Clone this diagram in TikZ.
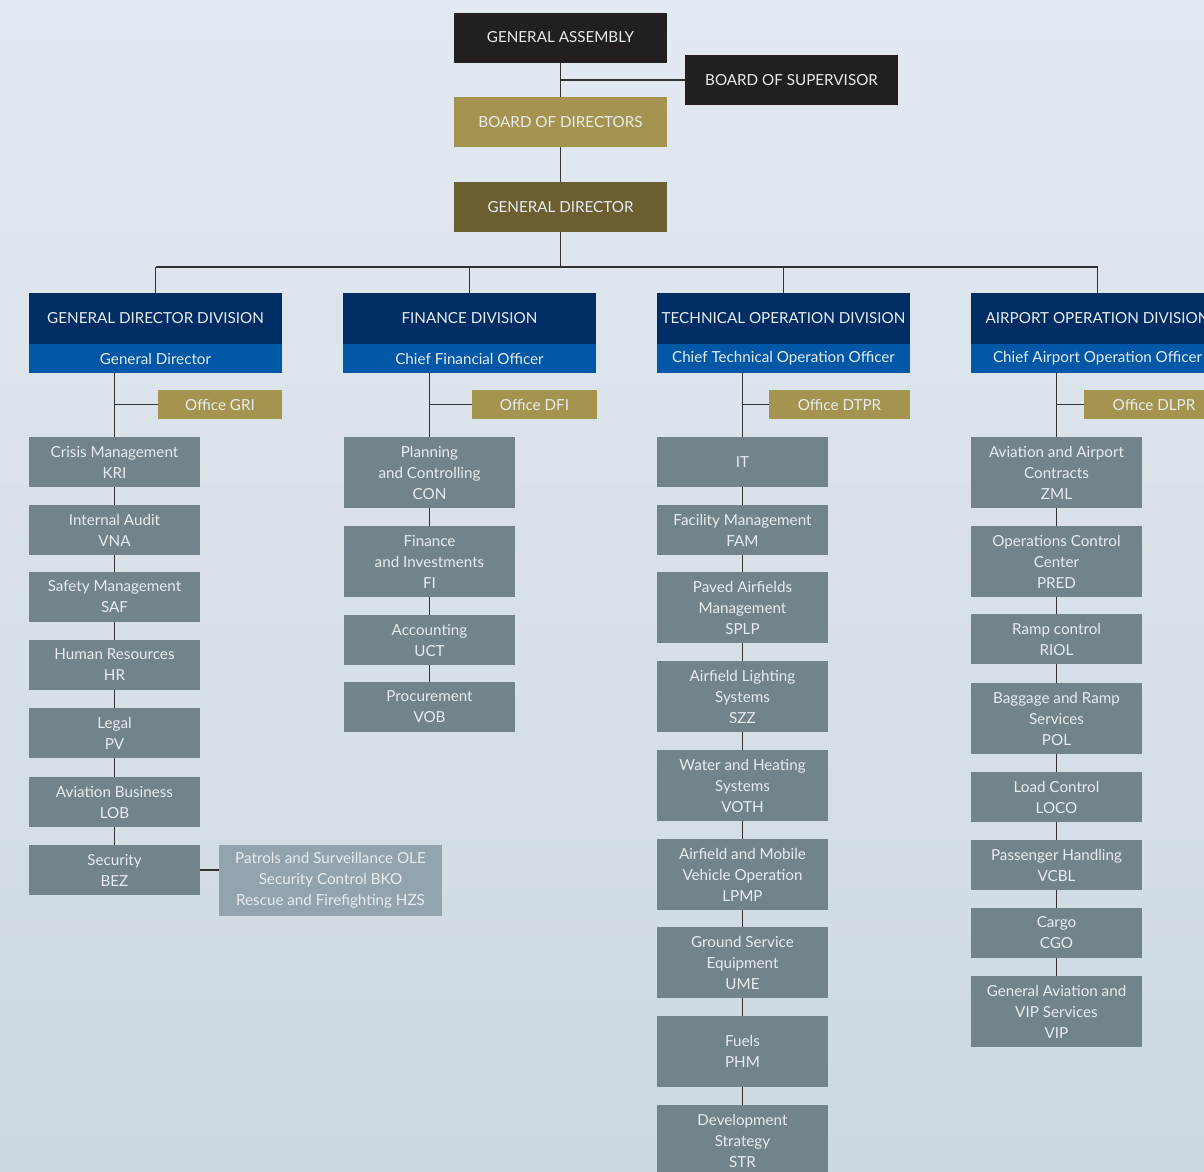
\documentclass[tikz,border=0pt]{standalone}
\usepackage{fontspec}
\setmainfont{Lato}
\usetikzlibrary{calc}
\definecolor{bgtop}{HTML}{E3E9F0}
\definecolor{bgbot}{HTML}{CCD9E2}
\definecolor{blackbox}{HTML}{231F20}
\definecolor{goldbox}{HTML}{A59450}
\definecolor{olivebox}{HTML}{6B5F32}
\definecolor{navybox}{HTML}{002D64}
\definecolor{bluebox}{HTML}{0057A6}
\definecolor{graybox}{HTML}{72838B}
\definecolor{lightgraybox}{HTML}{93A4AE}
\definecolor{boxtext}{HTML}{E8ECEF}
\definecolor{linecol}{HTML}{333333}
\tikzset{
  every node/.style={inner sep=0pt, outer sep=0pt, align=center, text=boxtext,
    font=\fontsize{15.2}{21}\selectfont},
  topbox/.style={minimum width=213, minimum height=50},
  divhead/.style={fill=navybox, minimum width=253, minimum height=51},
  divsub/.style={fill=bluebox, minimum width=253, minimum height=29},
  office/.style={fill=goldbox, minimum height=29},
  unit/.style={fill=graybox, minimum width=171, minimum height=50},
  unittall/.style={fill=graybox, minimum width=171, minimum height=71},
  conn/.style={draw=linecol, line width=1.9}
}
\begin{document}
\begin{tikzpicture}[x=1pt,y=-1pt]
\useasboundingbox (0,0) rectangle (1204,1171);
\clip (0,0) rectangle (1204,1171);
\shade[top color=bgtop, bottom color=bgbot] (0,0) rectangle (1204,1171);

% top level
\node[topbox, fill=blackbox] (ga) at (560.5,37.5) {GENERAL ASSEMBLY};
\node[topbox, fill=blackbox] (bos) at (791.5,80) {BOARD OF SUPERVISOR};
\node[topbox, fill=goldbox] (bod) at (560.5,122) {BOARD OF DIRECTORS};
\node[topbox, fill=olivebox] (gd) at (560.5,207) {GENERAL DIRECTOR};
\coordinate (bus) at (560.5,267);

% divisions
\node[divhead] (d1) at (155.5,318.5) {GENERAL DIRECTOR DIVISION};
\node[divsub] (c1) at (155.5,358.5) {General Director};
\node[divhead] (d2) at (469.5,318.5) {FINANCE DIVISION};
\node[divsub] (c2) at (469.5,358.5) {Chief Financial Officer};
\node[divhead] (d3) at (783.5,318.5) {TECHNICAL OPERATION DIVISION};
\node[divsub] (c3) at (783.5,358.5) {Chief Technical Operation Officer};
\node[divhead] (d4) at (1097.5,318.5) {AIRPORT OPERATION DIVISION};
\node[divsub] (c4) at (1097.5,358.5) {Chief Airport Operation Officer};

% offices
\node[office, minimum width=124] (o1) at (220,404.5) {Office GRI};
\node[office, minimum width=125] (o2) at (534.5,404.5) {Office DFI};
\node[office, minimum width=141] (o3) at (839.5,404.5) {Office DTPR};
\node[office, minimum width=140] (o4) at (1154,404.5) {Office DLPR};

% spine start points
\coordinate (s1) at (114.5,373);
\coordinate (s2) at (429.5,373);
\coordinate (s3) at (742.5,373);
\coordinate (s4) at (1056.5,373);

% column 1
\node[unit] (a1) at (114.5,462) {Crisis Management\\KRI};
\node[unit] (a2) at (114.5,530) {Internal Audit\\VNA};
\node[unit] (a3) at (114.5,597) {Safety Management\\SAF};
\node[unit] (a4) at (114.5,665) {Human Resources\\HR};
\node[unit] (a5) at (114.5,733) {Legal\\PV};
\node[unit] (a6) at (114.5,802) {Aviation Business\\LOB};
\node[unit] (a7) at (114.5,870) {Security\\BEZ};
\node[fill=lightgraybox, minimum width=223, minimum height=71] (sec) at (330.5,880.5)
  {Patrols and Surveillance OLE\\Security Control BKO\\Rescue and Firefighting HZS};

% column 2
\node[unittall] (b1) at (429.5,472.5) {Planning\\and Controlling\\CON};
\node[unittall] (b2) at (429.5,561.5) {Finance\\and Investments\\FI};
\node[unit] (b3) at (429.5,640) {Accounting\\UCT};
\node[unit] (b4) at (429.5,707) {Procurement\\VOB};

% column 3
\node[unit] (t1) at (742.5,462) {IT};
\node[unit] (t2) at (742.5,530) {Facility Management\\FAM};
\node[unittall] (t3) at (742.5,607.5) {Paved Airfields\\Management\\SPLP};
\node[unittall] (t4) at (742.5,696.5) {Airfield Lighting\\Systems\\SZZ};
\node[unittall] (t5) at (742.5,785.5) {Water and Heating\\Systems\\VOTH};
\node[unittall] (t6) at (742.5,874.5) {Airfield and Mobile\\Vehicle Operation\\LPMP};
\node[unittall] (t7) at (742.5,962.5) {Ground Service\\Equipment\\UME};
\node[unittall] (t8) at (742.5,1051.5) {Fuels\\PHM};
\node[unittall] (t9) at (742.5,1140.5) {Development\\Strategy\\STR};

% column 4
\node[unittall] (p1) at (1056.5,472.5) {Aviation and Airport\\Contracts\\ZML};
\node[unittall] (p2) at (1056.5,561.5) {Operations Control\\Center\\PRED};
\node[unit] (p3) at (1056.5,639) {Ramp control\\RIOL};
\node[unittall] (p4) at (1056.5,718.5) {Baggage and Ramp\\Services\\POL};
\node[unit] (p5) at (1056.5,797) {Load Control\\LOCO};
\node[unit] (p6) at (1056.5,865) {Passenger Handling\\VCBL};
\node[unit] (p7) at (1056.5,933) {Cargo\\CGO};
\node[unittall] (p8) at (1056.5,1011.5) {General Aviation and\\VIP Services\\VIP};

% connectors
\draw[conn] (ga) -- (bod);
\draw[conn] (bos.west) -- (bos.west -| ga.south);
\draw[conn] (bod) -- (gd);
\draw[conn] (gd) -- (bus);
\draw[conn] (d1.north |- bus) -- (d4.north |- bus);
\foreach \d in {d1,d2,d3,d4} \draw[conn] (\d.north) -- (\d.north |- bus);

\draw[conn] (s1) -- (a1);
\draw[conn] (o1.west) -- (o1.west -| s1);
\foreach \u/\v in {a1/a2,a2/a3,a3/a4,a4/a5,a5/a6,a6/a7} \draw[conn] (\u) -- (\v);
\draw[conn] (a7.east) -- (a7.east -| sec.west);

\draw[conn] (s2) -- (b1);
\draw[conn] (o2.west) -- (o2.west -| s2);
\foreach \u/\v in {b1/b2,b2/b3,b3/b4} \draw[conn] (\u) -- (\v);

\draw[conn] (s3) -- (t1);
\draw[conn] (o3.west) -- (o3.west -| s3);
\foreach \u/\v in {t1/t2,t2/t3,t3/t4,t4/t5,t5/t6,t6/t7,t7/t8,t8/t9} \draw[conn] (\u) -- (\v);

\draw[conn] (s4) -- (p1);
\draw[conn] (o4.west) -- (o4.west -| s4);
\foreach \u/\v in {p1/p2,p2/p3,p3/p4,p4/p5,p5/p6,p6/p7,p7/p8} \draw[conn] (\u) -- (\v);
\end{tikzpicture}
\end{document}
